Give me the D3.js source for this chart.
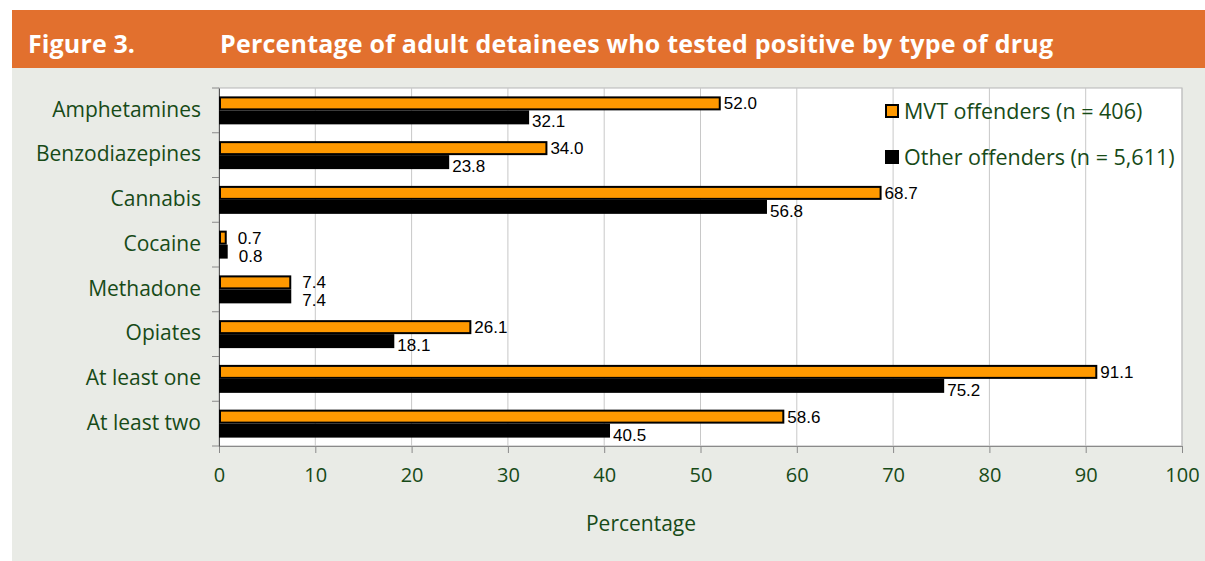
<!DOCTYPE html>
<html><head><meta charset="utf-8">
<script src="https://cdn.jsdelivr.net/npm/d3@7"></script>
<style>body{margin:0;background:#fff}svg{display:block}</style>
</head><body>
<svg id="c" width="1205" height="561"></svg>
<script>
const categories = ["Amphetamines","Benzodiazepines","Cannabis","Cocaine","Methadone","Opiates","At least one","At least two"];
const mvt = [52.0, 34.0, 68.7, 0.7, 7.4, 26.1, 91.1, 58.6];
const other = [32.1, 23.8, 56.8, 0.8, 7.4, 18.1, 75.2, 40.5];
const seriesNames = ["MVT offenders (n = 406)", "Other offenders (n = 5,611)"];
const xTicks = [0,10,20,30,40,50,60,70,80,90,100];

const svg = d3.select("#c");
const green = "#174a17";
svg.append("rect").attr("x",12).attr("y",10).attr("width",1193).attr("height",58).attr("fill","#e2702e");
svg.append("rect").attr("x",12).attr("y",68).attr("width",1193).attr("height",493).attr("fill","#e9ebe6");
svg.append("text").attr("x",28).attr("y",53).attr("fill","#fff").attr("font-family","Open Sans").attr("font-weight","bold").attr("font-size",25).attr("textLength",107).text("Figure 3.");
svg.append("text").attr("x",220).attr("y",53).attr("fill","#fff").attr("font-family","Open Sans").attr("font-weight","bold").attr("font-size",25).attr("textLength",833).text("Percentage of adult detainees who tested positive by type of drug");

const L=219, R=1182, T=88, B=446;
const x = d3.scaleLinear().domain([0,100]).range([L,R]);
const y = d3.scaleBand().domain(categories).range([T,B]);
const inner = d3.scaleBand().domain([0,1]).range([0,y.bandwidth()]).paddingOuter(0.6).paddingInner(0);

svg.append("rect").attr("x",L).attr("y",T).attr("width",R-L).attr("height",B-T).attr("fill","#fff").attr("stroke","#b5b5b5");
svg.append("g").selectAll("line").data(xTicks.slice(1)).join("line")
  .attr("x1",d=>x(d)).attr("x2",d=>x(d)).attr("y1",T).attr("y2",B).attr("stroke","#c8c8c8");

// x axis
const xa = svg.append("g").attr("transform",`translate(0,${B})`).call(d3.axisBottom(x).tickValues(xTicks).tickSize(7).tickPadding(15));
xa.select(".domain").attr("stroke","#8a8a8a");
xa.selectAll(".tick line").attr("stroke","#8a8a8a");
xa.selectAll("text").attr("fill",green).attr("font-family","Open Sans").attr("font-size",20);

// y axis
const ya = svg.append("g").attr("transform",`translate(${L},0)`).call(d3.axisLeft(y).tickSize(0).tickPadding(18));
ya.select(".domain").attr("stroke","#555");
ya.selectAll("text").attr("fill",green).attr("font-family","Open Sans").attr("font-size",21).attr("dy","0.3em");
svg.append("g").selectAll("line").data(d3.range(categories.length+1)).join("line")
  .attr("x1",L-7).attr("x2",L).attr("y1",i=>T+i*y.step()).attr("y2",i=>T+i*y.step()).attr("stroke","#8a8a8a");

const series = [{vals:mvt, fill:"#ff9900"},{vals:other, fill:"#000"}];
series.forEach((s,si)=>{
  const g = svg.append("g");
  g.selectAll("rect").data(categories).join("rect")
    .attr("x",x(0)+1).attr("y",(c)=>y(c)+inner(si)+1)
    .attr("width",(c,i)=>Math.max(x(s.vals[i])-x(0)-1,3)).attr("height",inner.bandwidth()-2)
    .attr("fill",s.fill).attr("stroke","#000").attr("stroke-width",2);
  g.selectAll("text").data(categories).join("text")
    .attr("x",(c,i)=>x(s.vals[i])+ (s.vals[i]<10 ? 12 : 4))
    .attr("y",(c)=>y(c)+inner(si)+inner.bandwidth()/2 + (si===0?0:4))
    .attr("dy","0.35em")
    .attr("font-family","Liberation Sans, Arial").attr("font-size",17).attr("fill","#000")
    .text((c,i)=>s.vals[i].toFixed(1));
});

// legend
const leg = svg.append("g");
seriesNames.forEach((n,i)=>{
  leg.append("rect").attr("x",886).attr("y",105+i*46).attr("width",12).attr("height",12)
    .attr("fill",series[i].fill).attr("stroke","#000").attr("stroke-width",2);
  leg.append("text").attr("x",904).attr("y",119+i*46).attr("fill",green).attr("font-family","Open Sans").attr("font-size",21.5).text(n);
});

svg.append("text").attr("x",641).attr("y",531).attr("text-anchor","middle").attr("fill",green).attr("font-family","Open Sans").attr("font-size",21).text("Percentage");
</script>
</body></html>
